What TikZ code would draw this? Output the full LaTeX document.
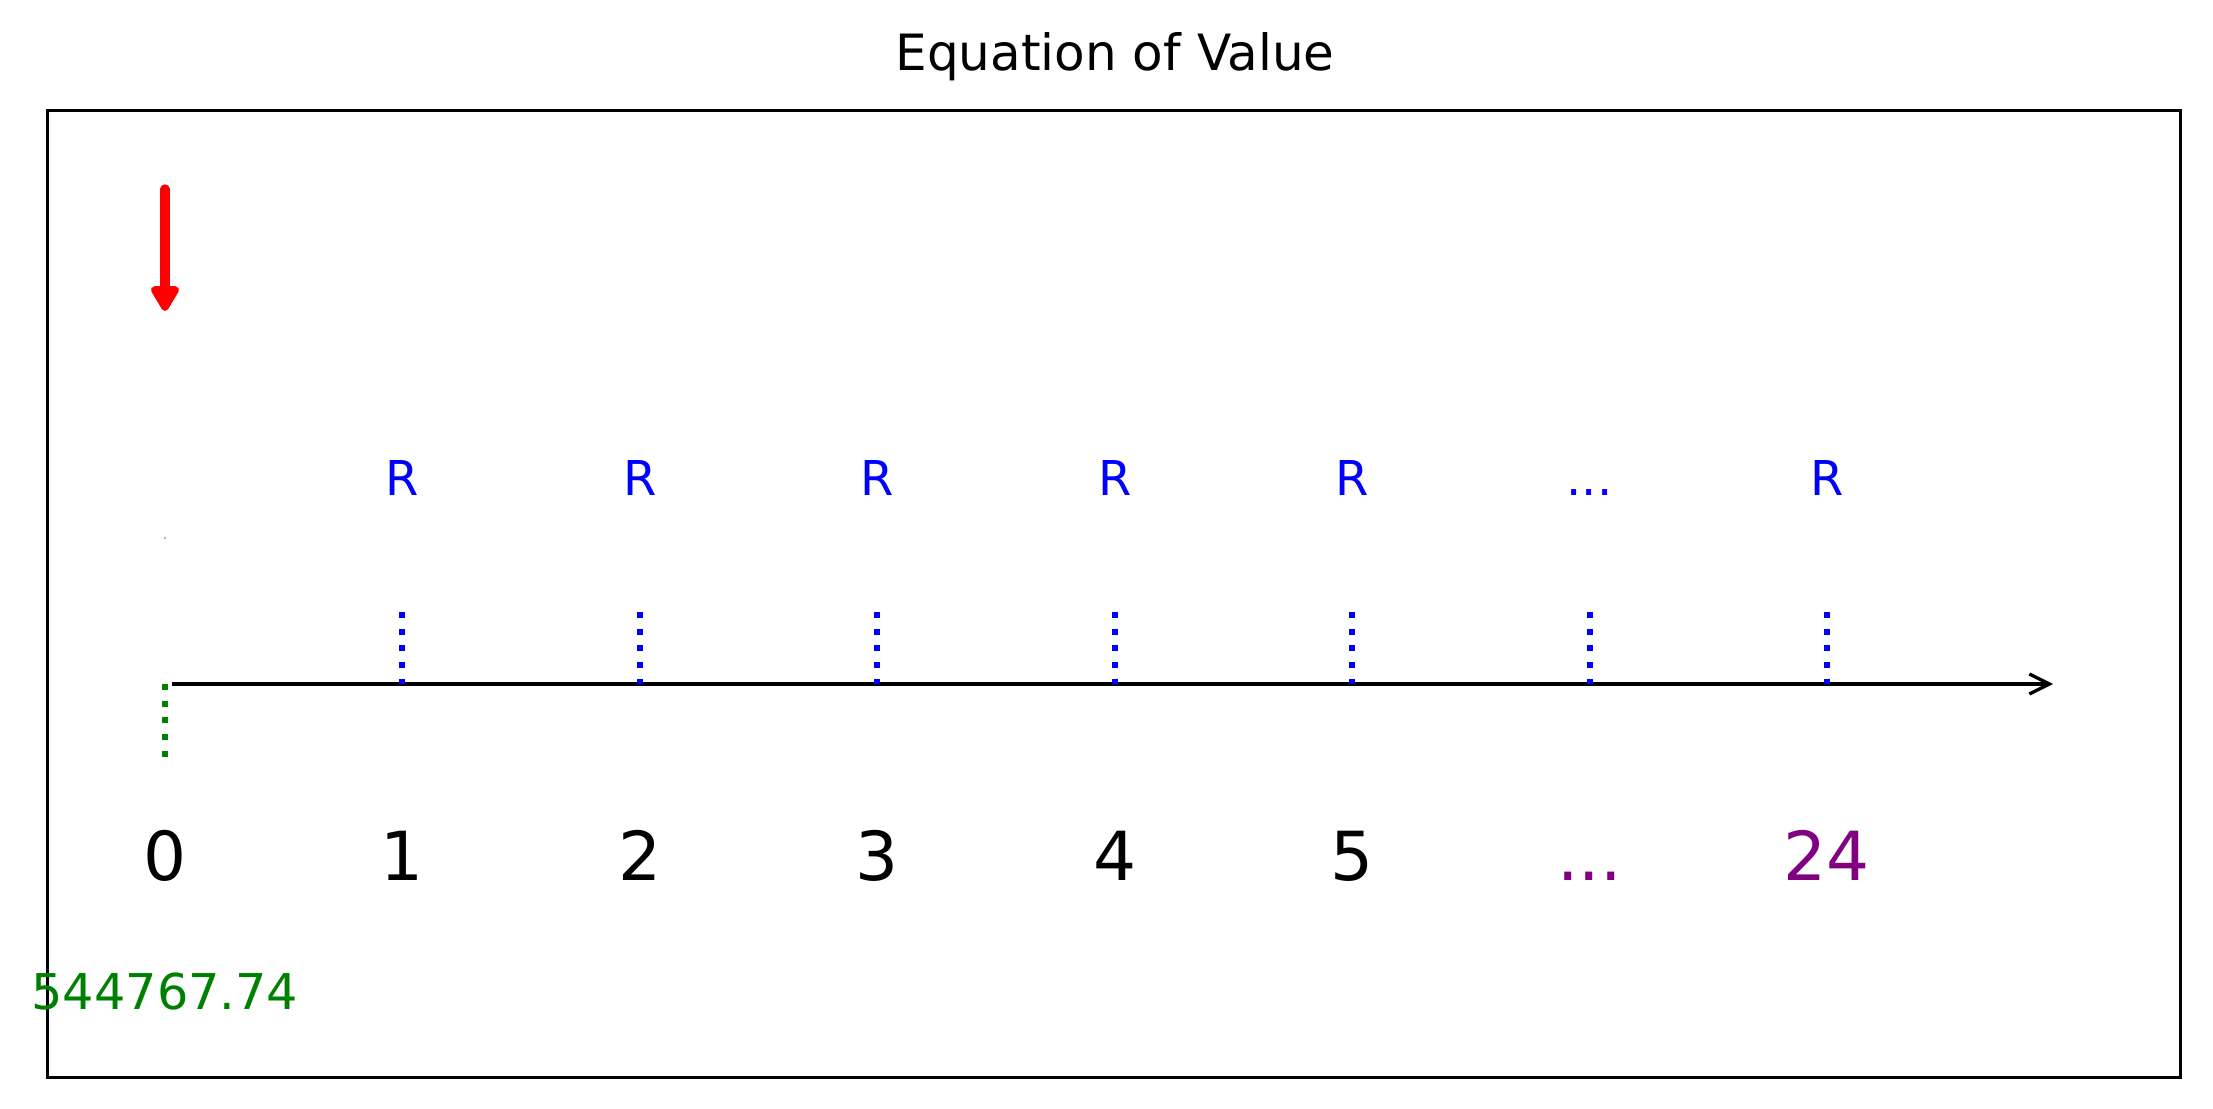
\documentclass[tikz,border=0pt]{standalone}
\usepackage{fontspec}
\setmainfont{DejaVu Sans}
\usetikzlibrary{arrows.meta}
\definecolor{mplgreen}{HTML}{008000}
\definecolor{mplpurple}{HTML}{800080}
\tikzset{
  ticklabel/.style={anchor=base, inner sep=0pt, font=\fontsize{20.3}{24}\selectfont},
  paylabel/.style={anchor=base, inner sep=0pt, text=blue, font=\fontsize{14.4}{17}\selectfont},
  pvlabel/.style={anchor=base, inner sep=0pt, text=mplgreen, font=\fontsize{14.8}{17}\selectfont},
  paydots/.style={blue, line width=1.8pt, dash pattern=on 1.8pt off 3.2pt},
  pvdots/.style={mplgreen, line width=1.8pt, dash pattern=on 1.8pt off 3.2pt},
  timeaxis/.style={line width=1pt, -{Straight Barb[length=6pt,width=6pt]}},
  loanarrow/.style={red, line width=2.8pt, line cap=round, -{Triangle[round,length=8.6pt,width=9.4pt]}}
}

\begin{document}
\begin{tikzpicture}[x=0.3pt, y=-0.3pt]
  \useasboundingbox (0,0) rectangle (2213,1109);
  \draw[line width=0.9pt] (47,110) rectangle (2180,1077);
  \node[anchor=base, inner sep=0pt, font=\fontsize{15}{18}\selectfont] (title) at (1115,70) {Equation of Value};

  % time line
  \coordinate (axstart) at (172,684);
  \coordinate (axend) at (2053,684);
  \draw[timeaxis] (axstart) -- (axend);

  % loan at time 0
  \coordinate (loantop) at (165,189);
  \coordinate (loantip) at (165,311);
  \draw[loanarrow] (loantop) -- (loantip);
  \fill[gray!60] (165,538) circle (1.3);
  \coordinate (a0) at (165,684);
  \coordinate (d0) at (165,757);
  \draw[pvdots] (a0) -- (d0);

  % payments
  \coordinate (a1) at (402.4,684);  \coordinate (d1) at (402.4,612);
  \coordinate (a2) at (639.9,684);  \coordinate (d2) at (639.9,612);
  \coordinate (a3) at (877.3,684);  \coordinate (d3) at (877.3,612);
  \coordinate (a4) at (1114.7,684); \coordinate (d4) at (1114.7,612);
  \coordinate (a5) at (1352.1,684); \coordinate (d5) at (1352.1,612);
  \coordinate (a6) at (1589.6,684); \coordinate (d6) at (1589.6,612);
  \coordinate (a7) at (1827,684);   \coordinate (d7) at (1827,612);
  \draw[paydots] (d1) -- (a1);
  \draw[paydots] (d2) -- (a2);
  \draw[paydots] (d3) -- (a3);
  \draw[paydots] (d4) -- (a4);
  \draw[paydots] (d5) -- (a5);
  \draw[paydots] (d6) -- (a6);
  \draw[paydots] (d7) -- (a7);

  \node[paylabel] (r1) at (402.4,495) {R};
  \node[paylabel] (r2) at (639.9,495) {R};
  \node[paylabel] (r3) at (877.3,495) {R};
  \node[paylabel] (r4) at (1114.7,495) {R};
  \node[paylabel] (r5) at (1352.1,495) {R};
  \node[paylabel] (r6) at (1589.6,495) {...};
  \node[paylabel] (r7) at (1827,495) {R};

  % period labels
  \node[ticklabel] (t0) at (165,880) {0};
  \node[ticklabel] (t1) at (402.4,880) {1};
  \node[ticklabel] (t2) at (639.9,880) {2};
  \node[ticklabel] (t3) at (877.3,880) {3};
  \node[ticklabel] (t4) at (1114.7,880) {4};
  \node[ticklabel] (t5) at (1352.1,880) {5};
  \node[ticklabel, text=mplpurple] (t6) at (1589.6,880) {...};
  \node[ticklabel, text=mplpurple] (t7) at (1827,880) {24};

  \node[pvlabel] (pv) at (165,1009) {544767.74};
\end{tikzpicture}
\end{document}
